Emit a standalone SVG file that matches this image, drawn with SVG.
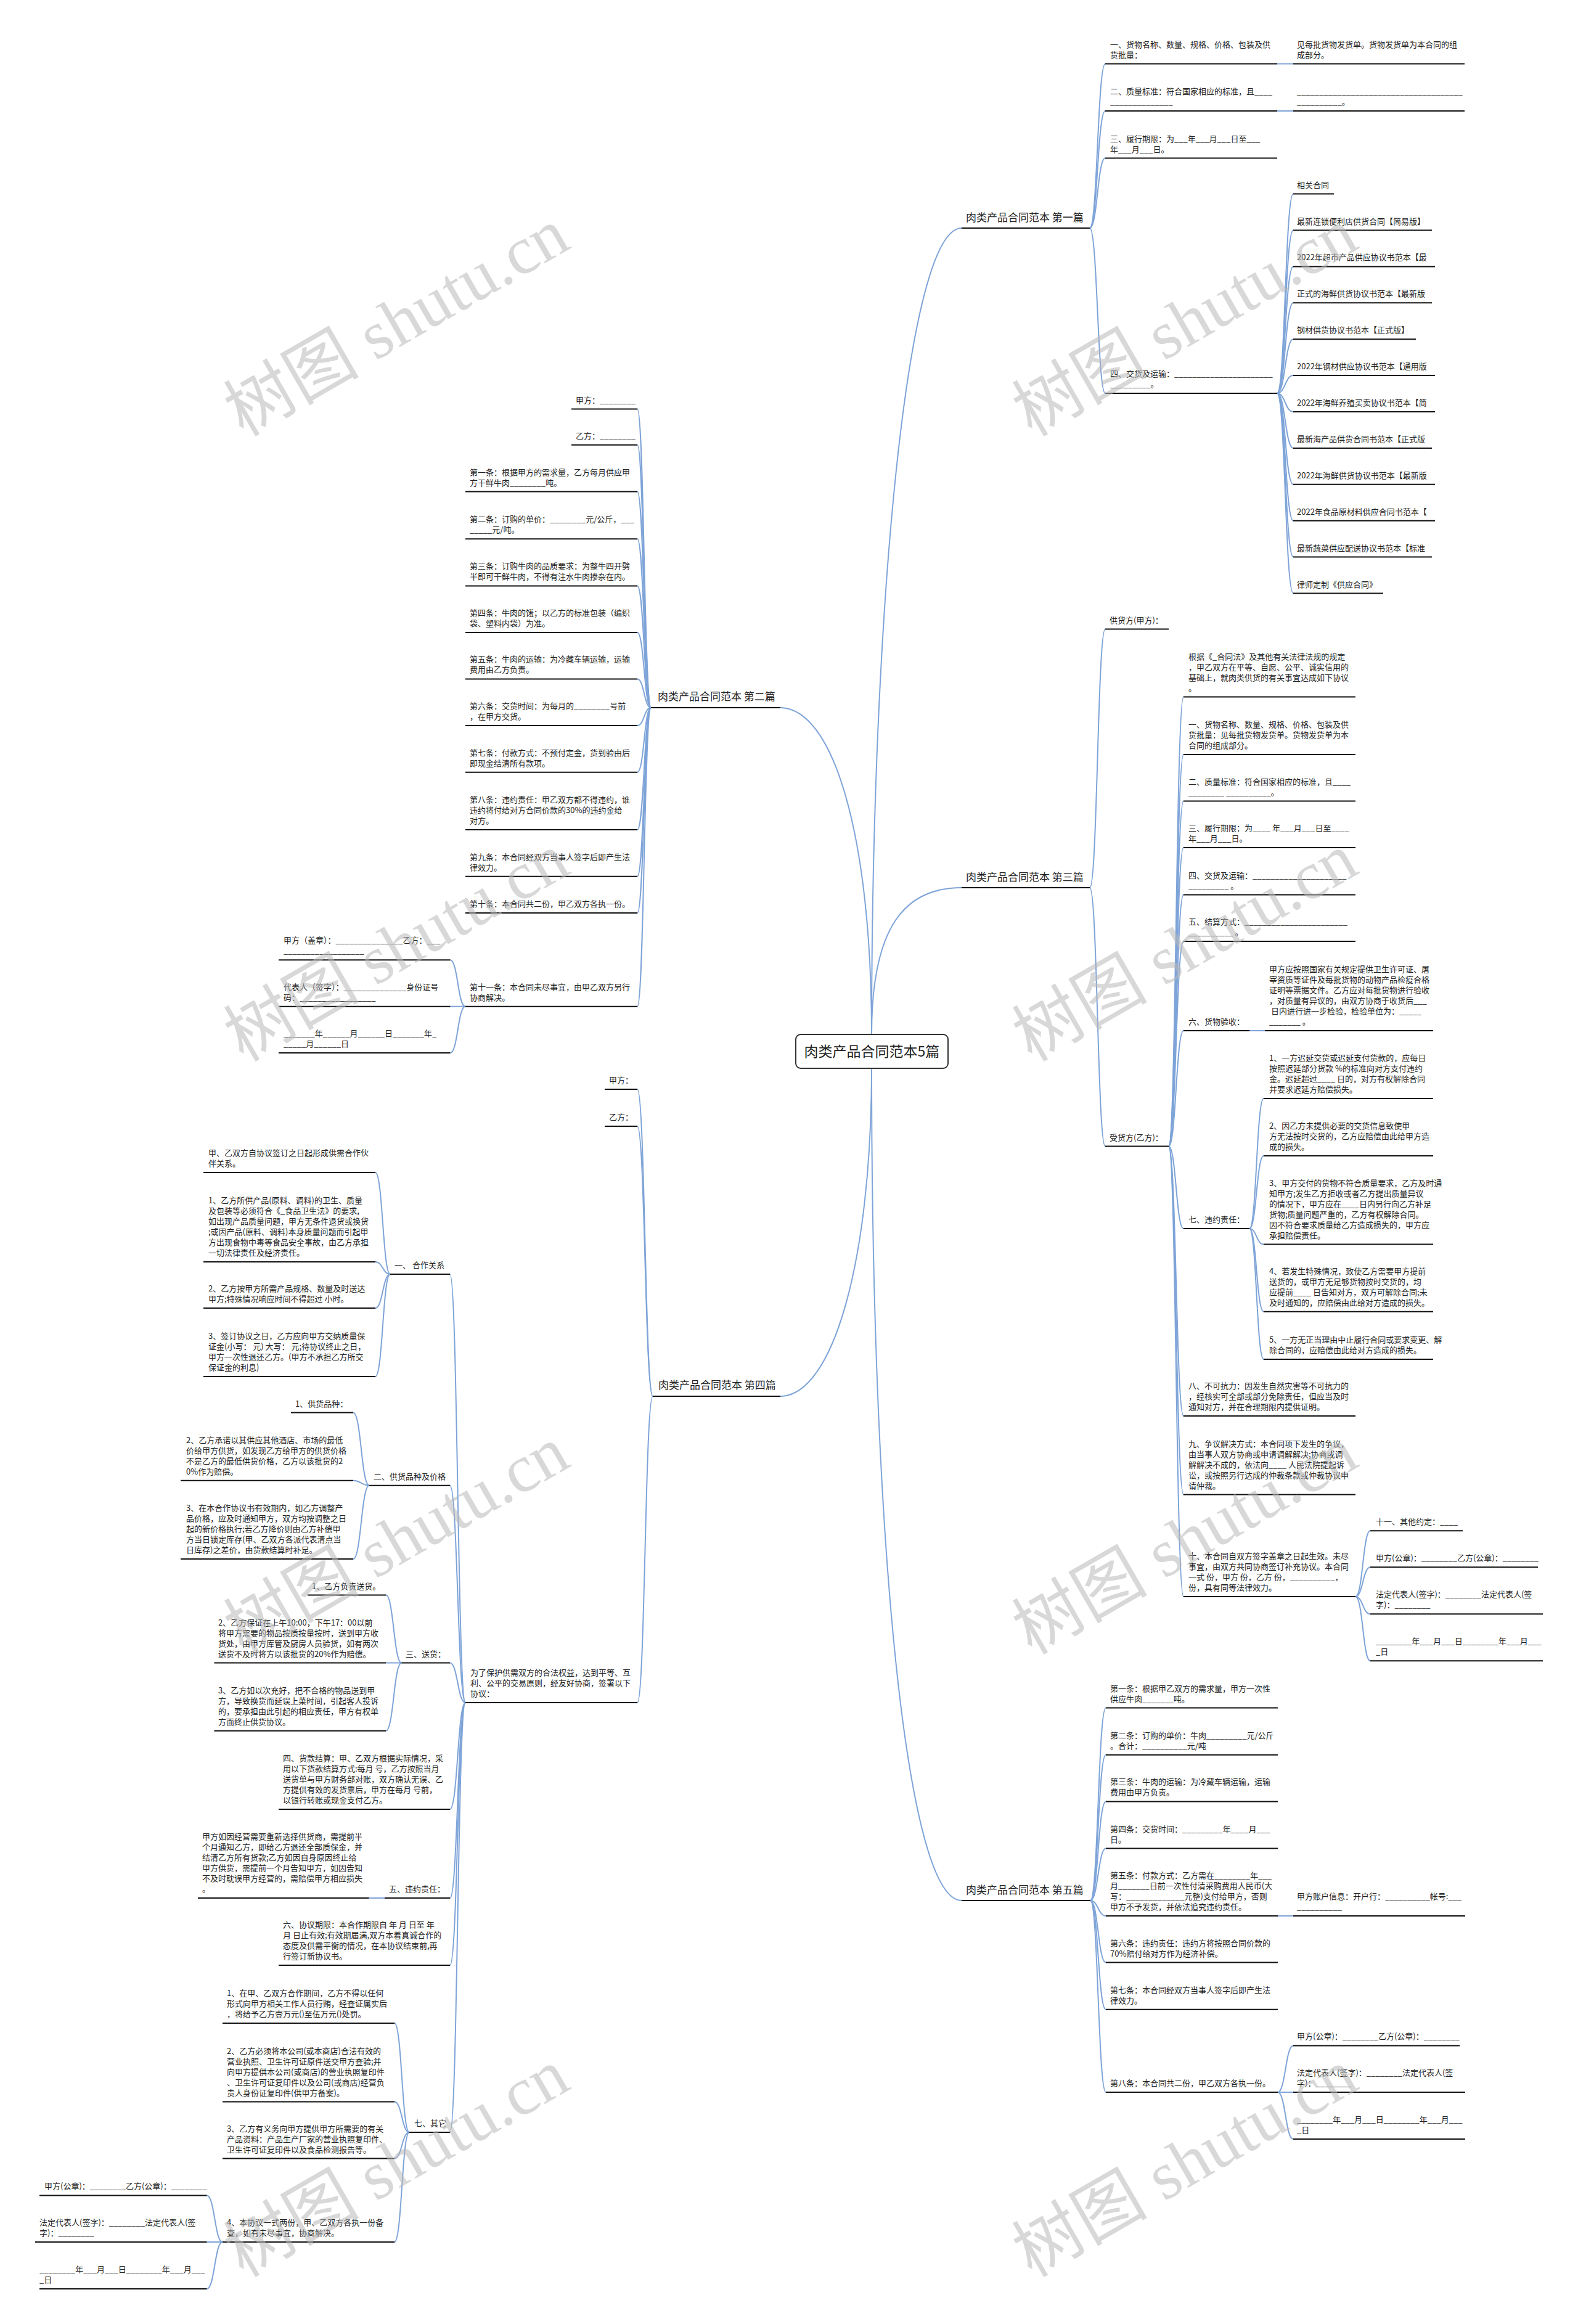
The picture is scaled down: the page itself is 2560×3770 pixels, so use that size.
<svg xmlns="http://www.w3.org/2000/svg" width="2560" height="3770" viewBox="0 0 2560 3770">
<style>
.t{font-family:"Noto Sans CJK SC","Liberation Sans",sans-serif;font-size:13px;fill:#222}
.b{font-family:"Noto Sans CJK SC","Liberation Sans",sans-serif;font-size:17px;fill:#222}
.m{font-family:"Noto Sans CJK SC","Liberation Sans",sans-serif;font-size:23px;fill:#222}
.u{stroke:#111;stroke-width:2;fill:none}
.c path{fill:none;stroke:#7ea4d8;stroke-width:2}
.w{font-family:"Liberation Serif","Noto Sans CJK SC",serif;font-size:110px;fill:#b8b8b8;fill-opacity:.55}
</style>
<rect width="2560" height="3770" fill="#fff"/>
<g class="c" id="connectors">
<path d="M1414 1678C1414 1000 1470 370 1560 370"/>
<path d="M1414 1678C1414 1500 1470 1440 1560 1440"/>
<path d="M1414 1678C1414 1350 1350 1148 1266 1148"/>
<path d="M1414 1733C1414 2050 1350 2265 1266 2265"/>
<path d="M1414 1733C1414 2500 1470 3083 1560 3083"/>
<path d="M1768 370C1780.5 370 1780.5 103.5 1793 103.5"/>
<path d="M1768 370C1780.5 370 1780.5 180 1793 180"/>
<path d="M1768 370C1780.5 370 1780.5 256.5 1793 256.5"/>
<path d="M1768 370C1780.5 370 1780.5 638 1793 638"/>
<path d="M2072 103.5H2098"/>
<path d="M2072 180H2098"/>
<path d="M2072 638C2085 638 2085 314.6 2098 314.6"/>
<path d="M2072 638C2085 638 2085 373.5 2098 373.5"/>
<path d="M2072 638C2085 638 2085 432.4 2098 432.4"/>
<path d="M2072 638C2085 638 2085 491.3 2098 491.3"/>
<path d="M2072 638C2085 638 2085 550.2 2098 550.2"/>
<path d="M2072 638C2085 638 2085 609.1 2098 609.1"/>
<path d="M2072 638C2085 638 2085 668 2098 668"/>
<path d="M2072 638C2085 638 2085 726.9 2098 726.9"/>
<path d="M2072 638C2085 638 2085 785.8 2098 785.8"/>
<path d="M2072 638C2085 638 2085 844.7 2098 844.7"/>
<path d="M2072 638C2085 638 2085 903.6 2098 903.6"/>
<path d="M2072 638C2085 638 2085 962.5 2098 962.5"/>
<path d="M1768 1440C1780.5 1440 1780.5 1020.5 1793 1020.5"/>
<path d="M1768 1440C1780.5 1440 1780.5 1859.6 1793 1859.6"/>
<path d="M1896 1859.6C1908 1859.6 1908 1130.5 1920 1130.5"/>
<path d="M1896 1859.6C1908 1859.6 1908 1224 1920 1224"/>
<path d="M1896 1859.6C1908 1859.6 1908 1299.5 1920 1299.5"/>
<path d="M1896 1859.6C1908 1859.6 1908 1375 1920 1375"/>
<path d="M1896 1859.6C1908 1859.6 1908 1451.5 1920 1451.5"/>
<path d="M1896 1859.6C1908 1859.6 1908 1527 1920 1527"/>
<path d="M1896 1859.6C1908 1859.6 1908 1672 1920 1672"/>
<path d="M1896 1859.6C1908 1859.6 1908 1993 1920 1993"/>
<path d="M1896 1859.6C1908 1859.6 1908 2297 1920 2297"/>
<path d="M1896 1859.6C1908 1859.6 1908 2424.5 1920 2424.5"/>
<path d="M1896 1859.6C1908 1859.6 1908 2590 1920 2590"/>
<path d="M2027 1672H2052"/>
<path d="M2027 1993C2038.5 1993 2038.5 1782 2050 1782"/>
<path d="M2027 1993C2038.5 1993 2038.5 1875 2050 1875"/>
<path d="M2027 1993C2038.5 1993 2038.5 2018.6 2050 2018.6"/>
<path d="M2027 1993C2038.5 1993 2038.5 2127.7 2050 2127.7"/>
<path d="M2027 1993C2038.5 1993 2038.5 2205 2050 2205"/>
<path d="M2199 2590C2211 2590 2211 2483.3 2223 2483.3"/>
<path d="M2199 2590C2211 2590 2211 2542.3 2223 2542.3"/>
<path d="M2199 2590C2211 2590 2211 2618.3 2223 2618.3"/>
<path d="M2199 2590C2211 2590 2211 2694.3 2223 2694.3"/>
<path d="M1769 3083C1781.5 3083 1781.5 2770.6 1794 2770.6"/>
<path d="M1769 3083C1781.5 3083 1781.5 2846.8 1794 2846.8"/>
<path d="M1769 3083C1781.5 3083 1781.5 2922.4 1794 2922.4"/>
<path d="M1769 3083C1781.5 3083 1781.5 2998.5 1794 2998.5"/>
<path d="M1769 3083C1781.5 3083 1781.5 3108 1794 3108"/>
<path d="M1769 3083C1781.5 3083 1781.5 3183.6 1794 3183.6"/>
<path d="M1769 3083C1781.5 3083 1781.5 3259.7 1794 3259.7"/>
<path d="M1769 3083C1781.5 3083 1781.5 3394 1794 3394"/>
<path d="M2073 3108H2098"/>
<path d="M2073 3394C2085.5 3394 2085.5 3318.4 2098 3318.4"/>
<path d="M2073 3394H2098"/>
<path d="M2073 3394C2085.5 3394 2085.5 3470 2098 3470"/>
<path d="M1056 1148C1045 1148 1045 663.6 1034 663.6"/>
<path d="M1056 1148C1045 1148 1045 721.8 1034 721.8"/>
<path d="M1056 1148C1045 1148 1045 797.5 1034 797.5"/>
<path d="M1056 1148C1045 1148 1045 874.3 1034 874.3"/>
<path d="M1056 1148C1045 1148 1045 950.4 1034 950.4"/>
<path d="M1056 1148C1045 1148 1045 1026 1034 1026"/>
<path d="M1056 1148C1045 1148 1045 1101.4 1034 1101.4"/>
<path d="M1056 1148C1045 1148 1045 1177 1034 1177"/>
<path d="M1056 1148C1045 1148 1045 1252.7 1034 1252.7"/>
<path d="M1056 1148C1045 1148 1045 1346 1034 1346"/>
<path d="M1056 1148C1045 1148 1045 1421.7 1034 1421.7"/>
<path d="M1056 1148C1045 1148 1045 1481 1034 1481"/>
<path d="M1056 1148C1045 1148 1045 1632.7 1034 1632.7"/>
<path d="M755 1632.7C742.7 1632.7 742.7 1557.3 730.5 1557.3"/>
<path d="M755 1632.7H730.5"/>
<path d="M755 1632.7C742.7 1632.7 742.7 1708 730.5 1708"/>
<path d="M1059 2265C1046.5 2265 1046.5 1767 1034 1767"/>
<path d="M1059 2265C1046.5 2265 1046.5 1827 1034 1827"/>
<path d="M1059 2265C1046.5 2265 1046.5 2762 1034 2762"/>
<path d="M755 2762C742.5 2762 742.5 2067 730 2067"/>
<path d="M755 2762C742.5 2762 742.5 2409.7 730 2409.7"/>
<path d="M755 2762C742.5 2762 742.5 2697.5 730 2697.5"/>
<path d="M755 2762C742.5 2762 742.5 2935 730 2935"/>
<path d="M755 2762C742.5 2762 742.5 3079 730 3079"/>
<path d="M755 2762C742.5 2762 742.5 3188 730 3188"/>
<path d="M755 2762C742.5 2762 742.5 3459 730 3459"/>
<path d="M633 2067C621 2067 621 1902 609 1902"/>
<path d="M633 2067C621 2067 621 2047 609 2047"/>
<path d="M633 2067C621 2067 621 2122 609 2122"/>
<path d="M633 2067C621 2067 621 2233 609 2233"/>
<path d="M599 2409.7C586 2409.7 586 2291.5 573 2291.5"/>
<path d="M599 2409.7C586 2409.7 586 2401.7 573 2401.7"/>
<path d="M599 2409.7C586 2409.7 586 2529 573 2529"/>
<path d="M651.5 2697.5C638.7 2697.5 638.7 2587.6 626 2587.6"/>
<path d="M651.5 2697.5H626"/>
<path d="M651.5 2697.5C638.7 2697.5 638.7 2807.8 626 2807.8"/>
<path d="M624 3079H598.6"/>
<path d="M664 3459C652 3459 652 3282 640 3282"/>
<path d="M664 3459C652 3459 652 3409.5 640 3409.5"/>
<path d="M664 3459C652 3459 652 3501.5 640 3501.5"/>
<path d="M664 3459C652 3459 652 3637 640 3637"/>
<path d="M361 3637C348.3 3637 348.3 3561.4 335.6 3561.4"/>
<path d="M361 3637H335.6"/>
<path d="M361 3637C348.3 3637 348.3 3713 335.6 3713"/>
</g>

<g id="center">
<rect x="1291" y="1678" width="247" height="55" rx="8" fill="#fff" stroke="#333" stroke-width="2"/>
<text class="m" x="1414.5" y="1714" text-anchor="middle">肉类产品合同范本5篇</text>
</g>

<!-- Branch 1 -->
<g id="b1"><text class="b" x="1567" y="359">肉类产品合同范本 第一篇</text><path class="u" d="M1560 370H1768"/></g>
<g id="b1-1"><text class="t"><tspan x="1801" y="76.5">一、货物名称、数量、规格、价格、包装及供</tspan><tspan x="1801" y="93.5">货批量：</tspan></text><path class="u" d="M1793 103.5H2072"/></g>
<g id="b1-1a"><text class="t"><tspan x="2104" y="76.5">见每批货物发货单。货物发货单为本合同的组</tspan><tspan x="2104" y="93.5">成部分。</tspan></text><path class="u" d="M2098 103.5H2376"/></g>
<g id="b1-2"><text class="t"><tspan x="1801" y="153">二、质量标准：符合国家相应的标准，且____</tspan><tspan x="1801" y="170">______________</tspan></text><path class="u" d="M1793 180H2072"/></g>
<g id="b1-2a"><text class="t"><tspan x="2104" y="153">_____________________________________</tspan><tspan x="2104" y="170">__________。</tspan></text><path class="u" d="M2098 180H2376"/></g>
<g id="b1-3"><text class="t"><tspan x="1801" y="229.5">三、履行期限：为___年___月___日至___</tspan><tspan x="1801" y="246.5">年___月___日。</tspan></text><path class="u" d="M1793 256.5H2072"/></g>
<g id="b1-4"><text class="t"><tspan x="1801" y="611">四、交货及运输：______________________</tspan><tspan x="1801" y="628">_________。</tspan></text><path class="u" d="M1793 638H2072"/></g>
<g id="b1-4-1"><text class="t" x="2104" y="304.6">相关合同</text><path class="u" d="M2098 314.6H2164"/></g>
<g id="b1-4-2"><text class="t" x="2104" y="363.5">最新连锁便利店供货合同【简易版】</text><path class="u" d="M2098 373.5H2323"/></g>
<g id="b1-4-3"><text class="t" x="2104" y="422.4">2022年超市产品供应协议书范本【最</text><path class="u" d="M2098 432.4H2328"/></g>
<g id="b1-4-4"><text class="t" x="2104" y="481.3">正式的海鲜供货协议书范本【最新版</text><path class="u" d="M2098 491.3H2323"/></g>
<g id="b1-4-5"><text class="t" x="2104" y="540.2">钢材供货协议书范本【正式版】</text><path class="u" d="M2098 550.2H2297"/></g>
<g id="b1-4-6"><text class="t" x="2104" y="599.1">2022年钢材供应协议书范本【通用版</text><path class="u" d="M2098 609.1H2328"/></g>
<g id="b1-4-7"><text class="t" x="2104" y="658">2022年海鲜养殖买卖协议书范本【简</text><path class="u" d="M2098 668H2328"/></g>
<g id="b1-4-8"><text class="t" x="2104" y="716.9">最新海产品供货合同书范本【正式版</text><path class="u" d="M2098 726.9H2323"/></g>
<g id="b1-4-9"><text class="t" x="2104" y="775.8">2022年海鲜供货协议书范本【最新版</text><path class="u" d="M2098 785.8H2328"/></g>
<g id="b1-4-10"><text class="t" x="2104" y="834.7">2022年食品原材料供应合同书范本【</text><path class="u" d="M2098 844.7H2328"/></g>
<g id="b1-4-11"><text class="t" x="2104" y="893.6">最新蔬菜供应配送协议书范本【标准</text><path class="u" d="M2098 903.6H2323"/></g>
<g id="b1-4-12"><text class="t" x="2104" y="952.5">律师定制《供应合同》</text><path class="u" d="M2098 962.5H2244"/></g>

<!-- Branch 3 -->
<g id="b3"><text class="b" x="1567" y="1429">肉类产品合同范本 第三篇</text><path class="u" d="M1560 1440H1768"/></g>
<g id="b3-1"><text class="t" x="1800" y="1010.5">供货方(甲方)：</text><path class="u" d="M1793 1020.5H1896"/></g>
<g id="b3-2"><text class="t" x="1800" y="1849.6">受货方(乙方)：</text><path class="u" d="M1793 1859.6H1896"/></g>
<g id="b3-2-0"><text class="t"><tspan x="1928" y="1069.5">根据《_合同法》及其他有关法律法规的规定</tspan><tspan x="1928" y="1086.5">，甲乙双方在平等、自愿、公平、诚实信用的</tspan><tspan x="1928" y="1103.5">基础上，就肉类供货的有关事宜达成如下协议</tspan><tspan x="1928" y="1120.5">。</tspan></text><path class="u" d="M1920 1130.5H2199"/></g>
<g id="b3-2-1"><text class="t"><tspan x="1928" y="1180">一、货物名称、数量、规格、价格、包装及供</tspan><tspan x="1928" y="1197">货批量：见每批货物发货单。货物发货单为本</tspan><tspan x="1928" y="1214">合同的组成部分。</tspan></text><path class="u" d="M1920 1224H2199"/></g>
<g id="b3-2-2"><text class="t"><tspan x="1928" y="1272.5">二、质量标准：符合国家相应的标准，且____</tspan><tspan x="1928" y="1289.5">________ __________。</tspan></text><path class="u" d="M1920 1299.5H2199"/></g>
<g id="b3-2-3"><text class="t"><tspan x="1928" y="1348">三、履行期限：为____ 年___月___日至____</tspan><tspan x="1928" y="1365">年___月___日。</tspan></text><path class="u" d="M1920 1375H2199"/></g>
<g id="b3-2-4"><text class="t"><tspan x="1928" y="1424.5">四、交货及运输：_____________________</tspan><tspan x="1928" y="1441.5">_________ 。</tspan></text><path class="u" d="M1920 1451.5H2199"/></g>
<g id="b3-2-5"><text class="t"><tspan x="1928" y="1500">五、结算方式：_______________________</tspan><tspan x="1928" y="1517">__________ 。</tspan></text><path class="u" d="M1920 1527H2199"/></g>
<g id="b3-2-6"><text class="t" x="1928" y="1662">六、货物验收：</text><path class="u" d="M1920 1672H2027"/></g>
<g id="b3-2-6a"><text class="t"><tspan x="2059" y="1577">甲方应按照国家有关规定提供卫生许可证、屠</tspan><tspan x="2059" y="1594">宰资质等证件及每批货物的动物产品检疫合格</tspan><tspan x="2059" y="1611">证明等票据文件。乙方应对每批货物进行验收</tspan><tspan x="2059" y="1628">，对质量有异议的，由双方协商于收货后___</tspan><tspan x="2059" y="1645"> 日内进行进一步检验，检验单位为：_____</tspan><tspan x="2059" y="1662">_______ 。</tspan></text><path class="u" d="M2052 1672H2325"/></g>
<g id="b3-2-7"><text class="t" x="1928" y="1983">七、违约责任：</text><path class="u" d="M1920 1993H2027"/></g>
<g id="b3-2-7-1"><text class="t"><tspan x="2059" y="1721">1、一方迟延交货或迟延支付货款的，应每日</tspan><tspan x="2059" y="1738">按照迟延部分货款 %的标准向对方支付违约</tspan><tspan x="2059" y="1755">金。迟延超过____ 日的，对方有权解除合同</tspan><tspan x="2059" y="1772">并要求迟延方赔偿损失。</tspan></text><path class="u" d="M2050 1782H2325"/></g>
<g id="b3-2-7-2"><text class="t"><tspan x="2059" y="1831">2、因乙方未提供必要的交货信息致使甲</tspan><tspan x="2059" y="1848">方无法按时交货的，乙方应赔偿由此给甲方造</tspan><tspan x="2059" y="1865">成的损失。</tspan></text><path class="u" d="M2050 1875H2325"/></g>
<g id="b3-2-7-3"><text class="t"><tspan x="2059" y="1923.6">3、甲方交付的货物不符合质量要求，乙方及时通</tspan><tspan x="2059" y="1940.6">知甲方;发生乙方拒收或者乙方提出质量异议</tspan><tspan x="2059" y="1957.6">的情况下，甲方应在____日内另行向乙方补足</tspan><tspan x="2059" y="1974.6">货物;质量问题严重的，乙方有权解除合同。</tspan><tspan x="2059" y="1991.6">因不符合要求质量给乙方造成损失的，甲方应</tspan><tspan x="2059" y="2008.6">承担赔偿责任。</tspan></text><path class="u" d="M2050 2018.6H2325"/></g>
<g id="b3-2-7-4"><text class="t"><tspan x="2059" y="2066.7">4、若发生特殊情况，致使乙方需要甲方提前</tspan><tspan x="2059" y="2083.7">送货的，或甲方无足够货物按时交货的，均</tspan><tspan x="2059" y="2100.7">应提前____ 日告知对方，双方可解除合同;未</tspan><tspan x="2059" y="2117.7">及时通知的，应赔偿由此给对方造成的损失。</tspan></text><path class="u" d="M2050 2127.7H2325"/></g>
<g id="b3-2-7-5"><text class="t"><tspan x="2059" y="2178">5、一方无正当理由中止履行合同或要求变更、解</tspan><tspan x="2059" y="2195">除合同的，应赔偿由此给对方造成的损失。</tspan></text><path class="u" d="M2050 2205H2325"/></g>
<g id="b3-2-8"><text class="t"><tspan x="1928" y="2253">八、不可抗力：因发生自然灾害等不可抗力的</tspan><tspan x="1928" y="2270">，经核实可全部或部分免除责任，但应当及时</tspan><tspan x="1928" y="2287">通知对方，并在合理期限内提供证明。</tspan></text><path class="u" d="M1920 2297H2199"/></g>
<g id="b3-2-9"><text class="t"><tspan x="1928" y="2346.5">九、争议解决方式：本合同项下发生的争议，</tspan><tspan x="1928" y="2363.5">由当事人双方协商或申请调解解决;协商或调</tspan><tspan x="1928" y="2380.5">解解决不成的，依法向____ 人民法院提起诉</tspan><tspan x="1928" y="2397.5">讼，或按照另行达成的仲裁条款或仲裁协议申</tspan><tspan x="1928" y="2414.5">请仲裁。</tspan></text><path class="u" d="M1920 2424.5H2199"/></g>
<g id="b3-2-10"><text class="t"><tspan x="1928" y="2529">十、本合同自双方签字盖章之日起生效。未尽</tspan><tspan x="1928" y="2546">事宜，由双方共同协商签订补充协议。本合同</tspan><tspan x="1928" y="2563">一式 份，甲方 份，乙方 份，__________，</tspan><tspan x="1928" y="2580">份，具有同等法律效力。</tspan></text><path class="u" d="M1920 2590H2199"/></g>
<g id="b3-2-10-1"><text class="t" x="2232" y="2473.3">十一、其他约定：____</text><path class="u" d="M2223 2483.3H2373"/></g>
<g id="b3-2-10-2"><text class="t" x="2232" y="2532.3">甲方(公章)：________乙方(公章)：________</text><path class="u" d="M2223 2542.3H2495"/></g>
<g id="b3-2-10-3"><text class="t"><tspan x="2232" y="2591.3">法定代表人(签字)：________法定代表人(签</tspan><tspan x="2232" y="2608.3">字)：________</tspan></text><path class="u" d="M2223 2618.3H2503"/></g>
<g id="b3-2-10-4"><text class="t"><tspan x="2232" y="2667.3">________年___月___日________年___月___</tspan><tspan x="2232" y="2684.3">_日</tspan></text><path class="u" d="M2223 2694.3H2503"/></g>

<!-- Branch 5 -->
<g id="b5"><text class="b" x="1567" y="3072">肉类产品合同范本 第五篇</text><path class="u" d="M1560 3083H1769"/></g>
<g id="b5-1"><text class="t"><tspan x="1801" y="2743.6">第一条：根据甲乙双方的需求量，甲方一次性</tspan><tspan x="1801" y="2760.6">供应牛肉_______吨。</tspan></text><path class="u" d="M1794 2770.6H2073"/></g>
<g id="b5-2"><text class="t"><tspan x="1801" y="2819.8">第二条：订购的单价：牛肉_________元/公斤</tspan><tspan x="1801" y="2836.8">。合计：__________元/吨</tspan></text><path class="u" d="M1794 2846.8H2073"/></g>
<g id="b5-3"><text class="t"><tspan x="1801" y="2895.4">第三条：牛肉的运输：为冷藏车辆运输，运输</tspan><tspan x="1801" y="2912.4">费用由甲方负责。</tspan></text><path class="u" d="M1794 2922.4H2073"/></g>
<g id="b5-4"><text class="t"><tspan x="1801" y="2971.5">第四条：交货时间：_________年____月___</tspan><tspan x="1801" y="2988.5">日。</tspan></text><path class="u" d="M1794 2998.5H2073"/></g>
<g id="b5-5"><text class="t"><tspan x="1801" y="3047">第五条：付款方式：乙方需在________年___</tspan><tspan x="1801" y="3064">月_______日前一次性付清采购费用人民币(大</tspan><tspan x="1801" y="3081">写：_____________元整)支付给甲方，否则</tspan><tspan x="1801" y="3098">甲方不予发货，并依法追究违约责任。</tspan></text><path class="u" d="M1794 3108H2073"/></g>
<g id="b5-5a"><text class="t"><tspan x="2104" y="3081">甲方账户信息：开户行：__________帐号:___</tspan><tspan x="2104" y="3098">__________</tspan></text><path class="u" d="M2098 3108H2377"/></g>
<g id="b5-6"><text class="t"><tspan x="1801" y="3156.6">第六条：违约责任：违约方将按照合同价款的</tspan><tspan x="1801" y="3173.6">70%赔付给对方作为经济补偿。</tspan></text><path class="u" d="M1794 3183.6H2073"/></g>
<g id="b5-7"><text class="t"><tspan x="1801" y="3232.7">第七条：本合同经双方当事人签字后即产生法</tspan><tspan x="1801" y="3249.7">律效力。</tspan></text><path class="u" d="M1794 3259.7H2073"/></g>
<g id="b5-8"><text class="t" x="1801" y="3384">第八条：本合同共二份，甲乙双方各执一份。</text><path class="u" d="M1794 3394H2073"/></g>
<g id="b5-8-1"><text class="t" x="2104" y="3308.4">甲方(公章)：________乙方(公章)：________</text><path class="u" d="M2098 3318.4H2368"/></g>
<g id="b5-8-2"><text class="t"><tspan x="2104" y="3367">法定代表人(签字)：________法定代表人(签</tspan><tspan x="2104" y="3384">字)：________</tspan></text><path class="u" d="M2098 3394H2377"/></g>
<g id="b5-8-3"><text class="t"><tspan x="2104" y="3443">________年___月___日________年___月___</tspan><tspan x="2104" y="3460">_日</tspan></text><path class="u" d="M2098 3470H2377"/></g>

<!-- Branch 2 -->
<g id="b2"><text class="b" x="1067" y="1136">肉类产品合同范本 第二篇</text><path class="u" d="M1056 1148H1266"/></g>
<g id="b2-1"><text class="t" x="934" y="653.6">甲方：________</text><path class="u" d="M927 663.6H1034"/></g>
<g id="b2-2"><text class="t" x="934" y="711.8">乙方：________</text><path class="u" d="M927 721.8H1034"/></g>
<g id="b2-3"><text class="t"><tspan x="762" y="770.5">第一条：根据甲方的需求量，乙方每月供应甲</tspan><tspan x="762" y="787.5">方干鲜牛肉________吨。</tspan></text><path class="u" d="M755 797.5H1034"/></g>
<g id="b2-4"><text class="t"><tspan x="762" y="847.3">第二条：订购的单价：________元/公斤，___</tspan><tspan x="762" y="864.3">_____元/吨。</tspan></text><path class="u" d="M755 874.3H1034"/></g>
<g id="b2-5"><text class="t"><tspan x="762" y="923.4">第三条：订购牛肉的品质要求：为整牛四开劈</tspan><tspan x="762" y="940.4">半即可干鲜牛肉，不得有注水牛肉掺杂在内。</tspan></text><path class="u" d="M755 950.4H1034"/></g>
<g id="b2-6"><text class="t"><tspan x="762" y="999">第四条：牛肉的馐；以乙方的标准包装（编织</tspan><tspan x="762" y="1016">袋、塑料内袋）为准。</tspan></text><path class="u" d="M755 1026H1034"/></g>
<g id="b2-7"><text class="t"><tspan x="762" y="1074.4">第五条：牛肉的运输：为冷藏车辆运输，运输</tspan><tspan x="762" y="1091.4">费用由乙方负责。</tspan></text><path class="u" d="M755 1101.4H1034"/></g>
<g id="b2-8"><text class="t"><tspan x="762" y="1150">第六条：交货时间：为每月的________号前</tspan><tspan x="762" y="1167">，在甲方交货。</tspan></text><path class="u" d="M755 1177H1034"/></g>
<g id="b2-9"><text class="t"><tspan x="762" y="1225.7">第七条：付款方式：不预付定金，货到验由后</tspan><tspan x="762" y="1242.7">即现金结清所有款项。</tspan></text><path class="u" d="M755 1252.7H1034"/></g>
<g id="b2-10"><text class="t"><tspan x="762" y="1302">第八条：违约责任：甲乙双方都不得违约，谁</tspan><tspan x="762" y="1319">违约将付给对方合同价款的30%的违约金给</tspan><tspan x="762" y="1336">对方。</tspan></text><path class="u" d="M755 1346H1034"/></g>
<g id="b2-11"><text class="t"><tspan x="762" y="1394.7">第九条：本合同经双方当事人签字后即产生法</tspan><tspan x="762" y="1411.7">律效力。</tspan></text><path class="u" d="M755 1421.7H1034"/></g>
<g id="b2-12"><text class="t" x="762" y="1471">第十条：本合同共二份，甲乙双方各执一份。</text><path class="u" d="M755 1481H1034"/></g>
<g id="b2-13"><text class="t"><tspan x="762" y="1605.7">第十一条：本合同未尽事宜，由甲乙双方另行</tspan><tspan x="762" y="1622.7">协商解决。</tspan></text><path class="u" d="M755 1632.7H1034"/></g>
<g id="b2-13-1"><text class="t"><tspan x="460" y="1530.3">甲方（盖章）：_______________乙方：___</tspan><tspan x="460" y="1547.3">__________________</tspan></text><path class="u" d="M452 1557.3H730.5"/></g>
<g id="b2-13-2"><text class="t"><tspan x="460" y="1605.7">代表人（签字）：______________身份证号</tspan><tspan x="460" y="1622.7">码：_________________</tspan></text><path class="u" d="M452 1632.7H730.5"/></g>
<g id="b2-13-3"><text class="t"><tspan x="460" y="1681">_______年______月______日_______年_</tspan><tspan x="460" y="1698">_____月______日</tspan></text><path class="u" d="M452 1708H730.5"/></g>

<!-- Branch 4 -->
<g id="b4"><text class="b" x="1068" y="2253">肉类产品合同范本 第四篇</text><path class="u" d="M1059 2265H1266"/></g>
<g id="b4-1"><text class="t" x="988" y="1757">甲方：</text><path class="u" d="M981 1767H1034"/></g>
<g id="b4-2"><text class="t" x="988" y="1817">乙方：</text><path class="u" d="M981 1827H1034"/></g>
<g id="b4-3"><text class="t"><tspan x="763" y="2718">为了保护供需双方的合法权益，达到平等、互</tspan><tspan x="763" y="2735">利、公平的交易原则，经友好协商，签署以下</tspan><tspan x="763" y="2752">协议：</tspan></text><path class="u" d="M755 2762H1034"/></g>
<g id="b4-3-1"><text class="t" x="640" y="2057">一、 合作关系</text><path class="u" d="M633 2067H730"/></g>
<g id="b4-3-1-1"><text class="t"><tspan x="338" y="1875">甲、乙双方自协议签订之日起形成供需合作伙</tspan><tspan x="338" y="1892">伴关系。</tspan></text><path class="u" d="M330 1902H609"/></g>
<g id="b4-3-1-2"><text class="t"><tspan x="338" y="1952">1、乙方所供产品(原料、调料)的卫生、质量</tspan><tspan x="338" y="1969">及包装等必须符合《_食品卫生法》的要求,</tspan><tspan x="338" y="1986">如出现产品质量问题，甲方无条件退货或换货</tspan><tspan x="338" y="2003">;或因产品(原料、调料)本身质量问题而引起甲</tspan><tspan x="338" y="2020">方出现食物中毒等食品安全事故，由乙方承担</tspan><tspan x="338" y="2037">一切法律责任及经济责任。</tspan></text><path class="u" d="M330 2047H609"/></g>
<g id="b4-3-1-3"><text class="t"><tspan x="338" y="2095">2、乙方按甲方所需产品规格、数量及时送达</tspan><tspan x="338" y="2112">甲方;特殊情况响应时间不得超过 小时。</tspan></text><path class="u" d="M330 2122H609"/></g>
<g id="b4-3-1-4"><text class="t"><tspan x="338" y="2172">3、签订协议之日，乙方应向甲方交纳质量保</tspan><tspan x="338" y="2189">证金(小写： 元) 大写： 元;待协议终止之日，</tspan><tspan x="338" y="2206">甲方一次性退还乙方。(甲方不承担乙方所交</tspan><tspan x="338" y="2223">保证金的利息)</tspan></text><path class="u" d="M330 2233H609"/></g>
<g id="b4-3-2"><text class="t" x="606" y="2399.7">二、供货品种及价格</text><path class="u" d="M599 2409.7H730"/></g>
<g id="b4-3-2-1"><text class="t" x="479" y="2281.5">1、供货品种：</text><path class="u" d="M472 2291.5H573"/></g>
<g id="b4-3-2-2"><text class="t"><tspan x="302" y="2340.7">2、乙方承诺以其供应其他酒店、市场的最低</tspan><tspan x="302" y="2357.7">价给甲方供货，如发现乙方给甲方的供货价格</tspan><tspan x="302" y="2374.7">不是乙方的最低供货价格，乙方以该批货的2</tspan><tspan x="302" y="2391.7">0%作为赔偿。</tspan></text><path class="u" d="M293 2401.7H573"/></g>
<g id="b4-3-2-3"><text class="t"><tspan x="302" y="2451">3、在本合作协议书有效期内，如乙方调整产</tspan><tspan x="302" y="2468">品价格，应及时通知甲方，双方均按调整之日</tspan><tspan x="302" y="2485">起的新价格执行;若乙方降价则由乙方补偿甲</tspan><tspan x="302" y="2502">方当日锁定库存(甲、乙双方各派代表清点当</tspan><tspan x="302" y="2519">日库存)之差价，由货款结算时补足。</tspan></text><path class="u" d="M293 2529H573"/></g>
<g id="b4-3-3"><text class="t" x="658" y="2687.5">三、送货：</text><path class="u" d="M651.5 2697.5H730"/></g>
<g id="b4-3-3-1"><text class="t" x="506" y="2577.6">1、乙方负责送货。</text><path class="u" d="M499 2587.6H626"/></g>
<g id="b4-3-3-2"><text class="t"><tspan x="354" y="2636.5">2、乙方保证在上午10:00，下午17：00以前</tspan><tspan x="354" y="2653.5">将甲方需要的物品按质按量按时，送到甲方收</tspan><tspan x="354" y="2670.5">货处，由甲方库管及厨房人员验货，如有两次</tspan><tspan x="354" y="2687.5">送货不及时将方以该批货的20%作为赔偿。</tspan></text><path class="u" d="M347.5 2697.5H626"/></g>
<g id="b4-3-3-3"><text class="t"><tspan x="354" y="2746.8">3、乙方如以次充好，把不合格的物品送到甲</tspan><tspan x="354" y="2763.8">方，导致换货而延误上菜时间，引起客人投诉</tspan><tspan x="354" y="2780.8">的，要承担由此引起的相应责任，甲方有权单</tspan><tspan x="354" y="2797.8">方面终止供货协议。</tspan></text><path class="u" d="M347.5 2807.8H626"/></g>
<g id="b4-3-4"><text class="t"><tspan x="459" y="2857">四、货款结算：甲、乙双方根据实际情况，采</tspan><tspan x="459" y="2874">用以下货款结算方式:每月 号，乙方按照当月</tspan><tspan x="459" y="2891">送货单与甲方财务部对账，双方确认无误、乙</tspan><tspan x="459" y="2908">方提供有效的发货票后，甲方在每月 号前，</tspan><tspan x="459" y="2925">以银行转账或现金支付乙方。</tspan></text><path class="u" d="M452 2935H730"/></g>
<g id="b4-3-5"><text class="t" x="631" y="3069">五、违约责任：</text><path class="u" d="M624 3079H730"/></g>
<g id="b4-3-5-1"><text class="t"><tspan x="328" y="2984">甲方如因经营需要重新选择供货商，需提前半</tspan><tspan x="328" y="3001">个月通知乙方，即给乙方退还全部质保金，并</tspan><tspan x="328" y="3018">结清乙方所有货款;乙方如因自身原因终止给</tspan><tspan x="328" y="3035">甲方供货，需提前一个月告知甲方，如因告知</tspan><tspan x="328" y="3052">不及时耽误甲方经营的，需赔偿甲方相应损失</tspan><tspan x="328" y="3069">。</tspan></text><path class="u" d="M321 3079H598.6"/></g>
<g id="b4-3-6"><text class="t"><tspan x="459" y="3127">六、协议期限：本合作期限自 年 月 日至 年</tspan><tspan x="459" y="3144">月 日止有效;有效期届满,双方本着真诚合作的</tspan><tspan x="459" y="3161">态度及供需平衡的情况，在本协议结束前,再</tspan><tspan x="459" y="3178">行签订新协议书。</tspan></text><path class="u" d="M452 3188H730"/></g>
<g id="b4-3-7"><text class="t" x="672" y="3449">七、其它</text><path class="u" d="M664 3459H730"/></g>
<g id="b4-3-7-1"><text class="t"><tspan x="368" y="3238">1、在甲、乙双方合作期间，乙方不得以任何</tspan><tspan x="368" y="3255">形式向甲方相关工作人员行贿，经查证属实后</tspan><tspan x="368" y="3272">，将给予乙方壹万元()至伍万元()处罚。</tspan></text><path class="u" d="M361 3282H640"/></g>
<g id="b4-3-7-2"><text class="t"><tspan x="368" y="3331.5">2、乙方必须将本公司(或本商店)合法有效的</tspan><tspan x="368" y="3348.5">营业执照、卫生许可证原件送交甲方查验;并</tspan><tspan x="368" y="3365.5">向甲方提供本公司(或商店)的营业执照复印件</tspan><tspan x="368" y="3382.5">、卫生许可证复印件以及公司(或商店)经营负</tspan><tspan x="368" y="3399.5">责人身份证复印件(供甲方备案)。</tspan></text><path class="u" d="M361 3409.5H640"/></g>
<g id="b4-3-7-3"><text class="t"><tspan x="368" y="3457.5">3、乙方有义务向甲方提供甲方所需要的有关</tspan><tspan x="368" y="3474.5">产品资料：产品生产厂家的营业执照复印件、</tspan><tspan x="368" y="3491.5">卫生许可证复印件以及食品检测报告等。</tspan></text><path class="u" d="M361 3501.5H640"/></g>
<g id="b4-3-7-4"><text class="t"><tspan x="368" y="3610">4、本协议一式两份，甲、乙双方各执一份备</tspan><tspan x="368" y="3627">查，如有未尽事宜，协商解决。</tspan></text><path class="u" d="M361 3637H640"/></g>
<g id="b4-3-7-4-1"><text class="t" x="72" y="3551.4">甲方(公章)：________乙方(公章)：________</text><path class="u" d="M64 3561.4H335.6"/></g>
<g id="b4-3-7-4-2"><text class="t"><tspan x="64" y="3610">法定代表人(签字)：________法定代表人(签</tspan><tspan x="64" y="3627">字)：________</tspan></text><path class="u" d="M57 3637H335.6"/></g>
<g id="b4-3-7-4-3"><text class="t"><tspan x="64" y="3686">________年___月___日________年___月___</tspan><tspan x="64" y="3703">_日</tspan></text><path class="u" d="M64 3713H335.6"/></g>

<g id="watermarks">
<text class="w" x="644" y="560" text-anchor="middle" transform="rotate(-30 644 524)">树图 shutu.cn</text>
<text class="w" x="1923" y="560" text-anchor="middle" transform="rotate(-30 1923 524)">树图 shutu.cn</text>
<text class="w" x="644" y="1574" text-anchor="middle" transform="rotate(-30 644 1538)">树图 shutu.cn</text>
<text class="w" x="1923" y="1574" text-anchor="middle" transform="rotate(-30 1923 1538)">树图 shutu.cn</text>
<text class="w" x="644" y="2536" text-anchor="middle" transform="rotate(-30 644 2500)">树图 shutu.cn</text>
<text class="w" x="1923" y="2536" text-anchor="middle" transform="rotate(-30 1923 2500)">树图 shutu.cn</text>
<text class="w" x="644" y="3546" text-anchor="middle" transform="rotate(-30 644 3510)">树图 shutu.cn</text>
<text class="w" x="1923" y="3546" text-anchor="middle" transform="rotate(-30 1923 3510)">树图 shutu.cn</text>
</g>
</svg>
